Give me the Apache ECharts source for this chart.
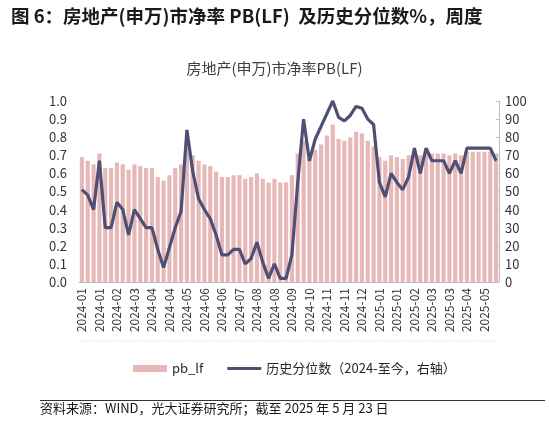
<!DOCTYPE html>
<html><head><meta charset="utf-8">
<script src="https://cdn.jsdelivr.net/npm/echarts@6/dist/echarts.min.js"></script>
<style>html,body{margin:0;padding:0;background:#fff}#c{width:549px;height:422px}</style>
</head><body><div id="c"></div>
<script>
const dates = [
'2024-01-05','2024-01-12','2024-01-19','2024-01-26','2024-02-02','2024-02-09','2024-02-23','2024-03-01','2024-03-08','2024-03-15',
'2024-03-22','2024-03-29','2024-04-05','2024-04-12','2024-04-19','2024-04-26','2024-05-03','2024-05-10','2024-05-17','2024-05-24',
'2024-05-31','2024-06-07','2024-06-14','2024-06-21','2024-06-28','2024-07-05','2024-07-12','2024-07-19','2024-07-26','2024-08-02',
'2024-08-09','2024-08-16','2024-08-23','2024-08-30','2024-09-06','2024-09-13','2024-09-20','2024-09-27','2024-10-04','2024-10-11',
'2024-10-18','2024-10-25','2024-11-01','2024-11-08','2024-11-15','2024-11-22','2024-11-29','2024-12-06','2024-12-13','2024-12-20',
'2024-12-27','2025-01-03','2025-01-10','2025-01-17','2025-01-24','2025-01-31','2025-02-07','2025-02-14','2025-02-21','2025-02-28',
'2025-03-07','2025-03-14','2025-03-21','2025-03-28','2025-04-04','2025-04-11','2025-04-18','2025-04-25','2025-05-02','2025-05-09',
'2025-05-16','2025-05-23'];
const pbLF = [
0.69,0.67,0.65,0.71,0.63,0.63,0.66,0.65,0.62,0.65,
0.64,0.63,0.63,0.58,0.56,0.59,0.63,0.65,0.74,0.70,
0.67,0.65,0.64,0.61,0.58,0.58,0.59,0.59,0.57,0.58,
0.60,0.57,0.55,0.57,0.55,0.55,0.59,0.71,0.78,0.68,
0.73,0.76,0.81,0.87,0.79,0.78,0.80,0.83,0.82,0.78,
0.75,0.69,0.67,0.70,0.69,0.68,0.70,0.70,0.70,0.71,
0.71,0.71,0.71,0.70,0.71,0.70,0.72,0.72,0.72,0.72,
0.72,0.71];
const pctRank = [
51,48,40,67,30,30,44,40,26,40,
35,30,30,18,8,19,30,39,84,61,
46,40,35,26,15,15,18,18,10,13,
22,11,2,10,2,2,15,55,90,67,
79,86,93,100,91,89,92,97,96,90,
87,55,47,60,55,51,58,74,60,74,
67,67,67,60,67,60,74,74,74,74,
74,67];
const seriesNames = ['pb_lf','历史分位数（2024-至今，右轴）'];
const mainTitle = '图 6：房地产(申万)市净率 PB(LF)  及历史分位数%，周度';
const chartTitle = '房地产(申万)市净率PB(LF)';
const sourceText = '资料来源：WIND，光大证券研究所；截至 2025 年 5 月 23 日';

const FONT = '"Noto Sans CJK SC", "Noto Sans", sans-serif';
const chart = echarts.init(document.getElementById('c'));
chart.setOption({
  animation: false,
  textStyle: { fontFamily: FONT },
  title: [
    { text: mainTitle, left: 6, top: 2, textStyle: { fontFamily: FONT, fontSize: 18.5, fontWeight: 'bold', color: '#1a1a1a' } },
    { text: chartTitle, left: 'center', top: 56, textStyle: { fontFamily: FONT, fontSize: 15, fontWeight: 'normal', color: '#404040' } }
  ],
  legend: {
    left: 128, top: 357, itemGap: 24, itemWidth: 34, itemHeight: 7, symbolKeepAspect: true,
    textStyle: { fontFamily: FONT, fontSize: 13, color: '#262626' },
    data: [
      { name: seriesNames[0], icon: 'rect' },
      { name: seriesNames[1], icon: 'path://M0,0H36V3H0Z' }
    ]
  },
  grid: { left: 79, right: 50, top: 101, bottom: 140 },
  xAxis: {
    type: 'category', data: dates, boundaryGap: true,
    axisLine: { lineStyle: { color: '#bfbfbf', width: 1 } },
    axisTick: { show: false },
    axisLabel: {
      interval: 2, rotate: 90, fontSize: 12, color: '#333', fontFamily: FONT, margin: 6,
      formatter: v => v.slice(0, 7)
    }
  },
  yAxis: [
    { type: 'value', min: 0, max: 1, interval: 0.1, splitLine: { show: false },
      axisLine: { show: false }, axisTick: { show: false },
      axisLabel: { fontSize: 13, color: '#333', fontFamily: FONT, margin: 12, formatter: v => v.toFixed(1) } },
    { type: 'value', min: 0, max: 100, interval: 10, splitLine: { show: false },
      axisLine: { show: true, lineStyle: { color: '#bfbfbf' } },
      axisTick: { show: true, inside: true, length: 3, lineStyle: { color: '#bfbfbf' } },
      axisLabel: { fontSize: 13, color: '#333', fontFamily: FONT, margin: 6 } }
  ],
  series: [
    { name: seriesNames[0], type: 'bar', data: pbLF, yAxisIndex: 0, barWidth: '72%',
      itemStyle: { color: '#e6b9b8' } },
    { name: seriesNames[1], type: 'line', data: pctRank, yAxisIndex: 1, symbol: 'none',
      lineStyle: { color: '#4f4f75', width: 3.2 }, itemStyle: { color: '#4f4f75' } }
  ],
  graphic: [
    { type: 'line', shape: { x1: 78, y1: 341, x2: 500, y2: 341 }, style: { stroke: '#d0d0d0', lineWidth: 1, lineDash: [1, 2] } },
    { type: 'line', shape: { x1: 40, y1: 400.5, x2: 545, y2: 400.5 }, style: { stroke: '#333', lineWidth: 1 } },
    { type: 'text', left: 40, top: 402, style: { text: sourceText, font: '13px "Noto Sans CJK SC"', fill: '#1a1a1a' } }
  ]
});
</script></body></html>
